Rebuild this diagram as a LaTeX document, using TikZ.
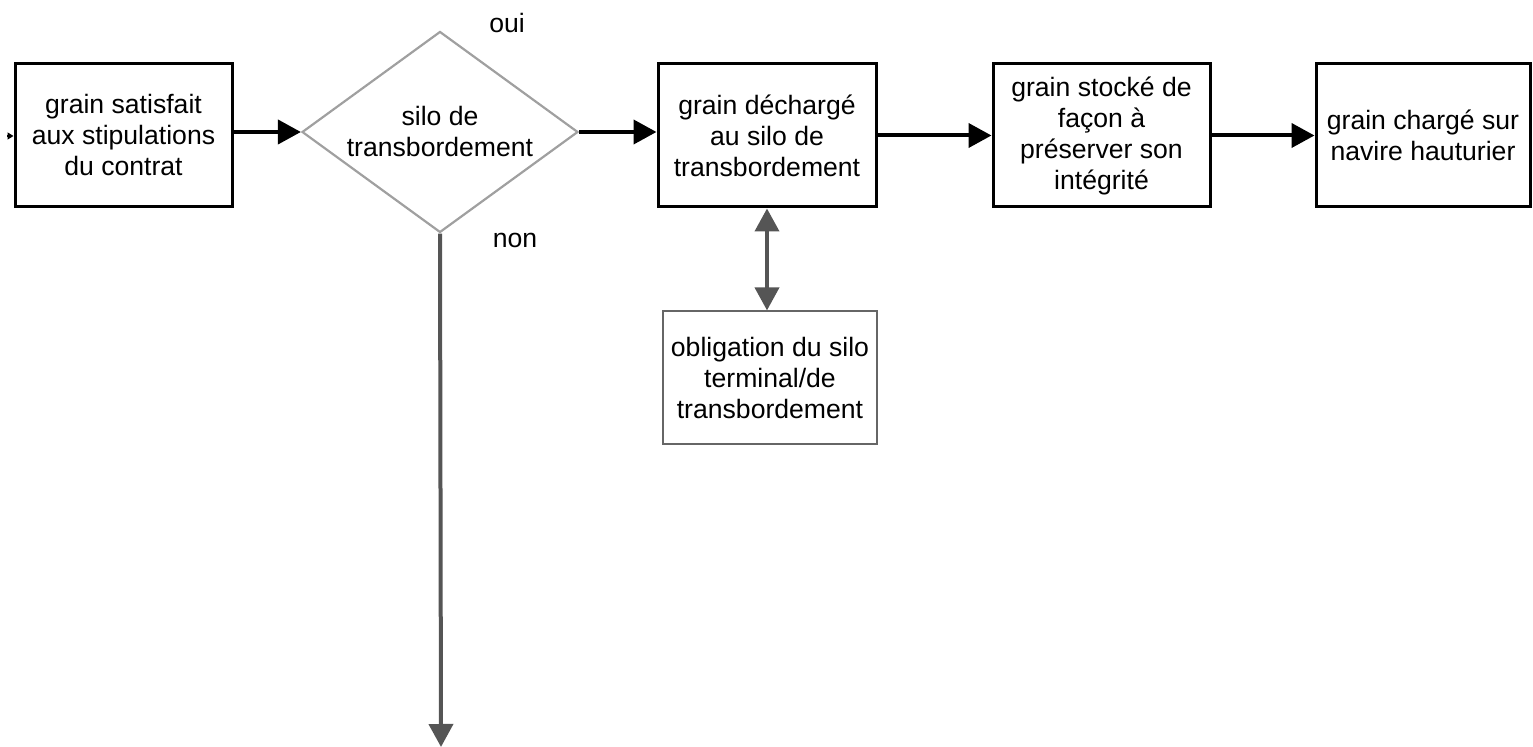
\documentclass[tikz,border=0pt]{standalone}
\usepackage{fontspec}
\setmainfont{Liberation Sans}
\usetikzlibrary{positioning,shapes.geometric,arrows.meta}
\definecolor{mygray}{RGB}{160,160,160}
\definecolor{mydark}{RGB}{85,85,85}
\definecolor{myframe}{RGB}{102,102,102}

\begin{document}
\begin{tikzpicture}[x=0.5pt,y=-0.5pt,
		  every node/.style={align=center,font=\fontsize{13.3pt}{15.5pt}\selectfont},
		  stepbox/.style={draw,line width=1.5pt,minimum width=108.5pt,minimum height=71.5pt,inner sep=0pt},
		  dutybox/.style={draw=myframe,line width=0.6pt,minimum width=107pt,minimum height=66.5pt,inner sep=0pt},
		  test/.style={draw=mygray,line width=1.1pt,diamond,shape aspect=1.37,minimum width=138pt,minimum height=100.5pt,inner sep=0pt},
		  flow/.style={line width=2pt,-{Triangle[length=11.5pt,width=12pt]}},
		  back/.style={line width=2pt,mydark,{Triangle[length=11.5pt,width=12pt]}-{Triangle[length=11.5pt,width=12pt]}}
		]
			\useasboundingbox (0,0) rectangle (1533,747);

			% the steps of the grain
			\node[stepbox] (b1) at (123.5,135.5) {grain satisfait\\aux stipulations\\du contrat};
			\node[test] (t) at (440,132) {silo de\\transbordement};
			\node[stepbox,minimum width=109pt] (b2) at (767,135.5) {grain déchargé\\au silo de\\transbordement};
			\node[stepbox] (b3) at (1101.5,135.5) {grain stocké de\\façon à\\préserver son\\intégrité};
			\node[stepbox,minimum width=107pt] (b4) at (1423,135.5) {grain chargé sur\\navire hauturier};

			% the duty of the silo
			\node[dutybox] (b5) at (770,377.5) {obligation du silo\\terminal/de\\transbordement};

			% the answers
			\node (oui) at (507,23) {oui};
			\node (non) at (515,240) {non};

			% the free ends
			\coordinate (in) at (7,136);
			\coordinate (out) at (441,747);

			% the edges
			\draw[line width=0.6pt,-{Triangle[length=3pt,width=3.5pt]}] (in) -- (b1.west |- in);
			\draw[flow] (b1.east |- t.west) -- (t.west);
			\draw[flow] (t.east) -- (b2.west |- t.east);
			\draw[flow] (b2) -- (b3);
			\draw[flow] (b3) -- (b4);
			\draw[back] (b2.south) -- (b2.south |- b5.north);
			\draw[flow,mydark] (t.south) -- (out);

		\end{tikzpicture}
\end{document}
